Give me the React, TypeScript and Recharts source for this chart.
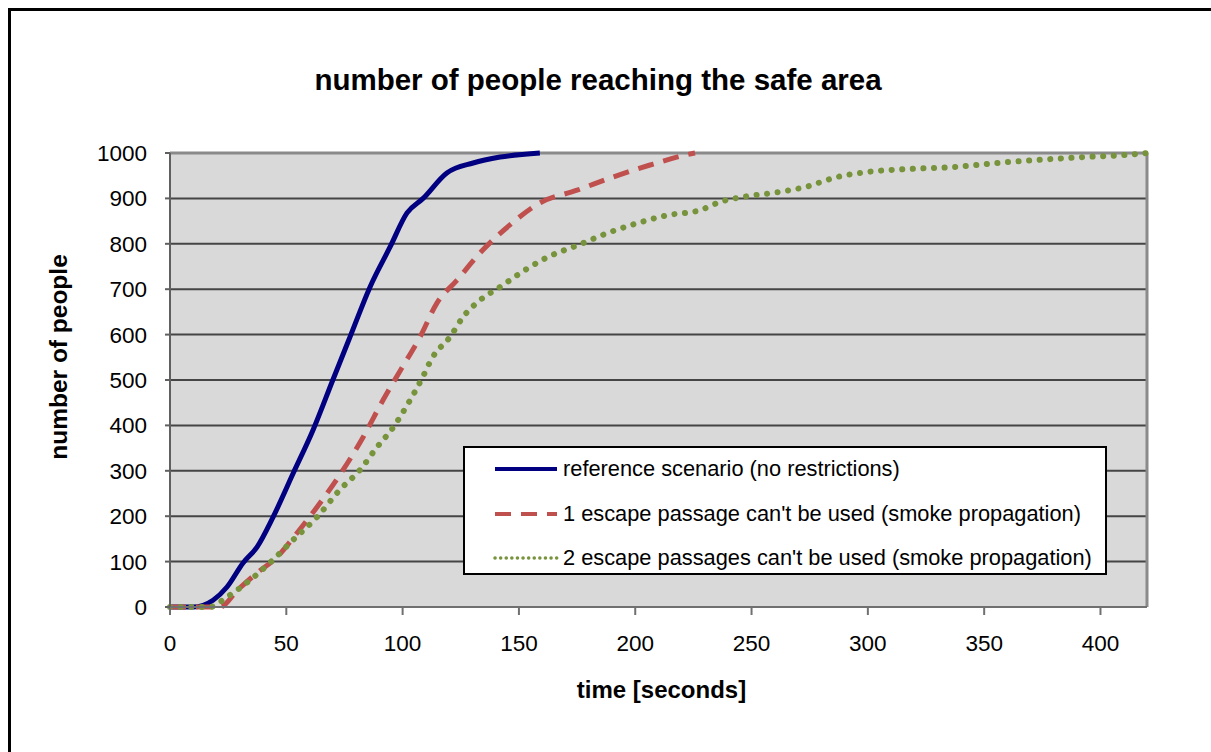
import React from "react";
import { LineChart, Line, XAxis, YAxis, CartesianGrid, ReferenceLine } from "recharts";

// ---- data ----
const xTicks = [0, 50, 100, 150, 200, 250, 300, 350, 400];
const yTicks = [0, 100, 200, 300, 400, 500, 600, 700, 800, 900, 1000];

const refTime = [0, 10, 18.5, 24.5, 31.4, 37.4, 44.3, 53, 61.5, 70, 77.4, 86, 94.6, 101.9, 108.8, 119, 130.3, 141.9, 159];
const refCount = [0, 0, 15, 44, 97, 132, 198, 295, 390, 500, 595, 705, 793, 868, 900, 956, 978, 991, 1000];

const oneTime = [0, 21.5, 29, 37.4, 46, 54.6, 64.5, 74.4, 83, 91.6, 98.9, 107.5, 114.8, 123.4, 133.3, 146, 159, 175, 190.4, 206, 222, 225.7];
const oneCount = [0, 0, 37, 75, 110, 163, 229, 302, 374, 456, 520, 595, 670, 720, 780, 841, 890, 918, 947, 973, 996, 1000];

const twoTime = [0, 17, 24.5, 34.4, 44.3, 53, 63.2, 73, 81.7, 89, 96, 102, 108, 113, 120.4, 126, 133.3, 141.9, 153.5, 162.5, 175.4, 188.3, 201.2, 214, 227.8, 236.4, 245.9, 259.2, 273, 286.7, 299.6, 318, 336.6, 355.5, 374, 392.5, 411.4, 420];
const twoCount = [0, 0, 22, 59, 104, 148, 198, 258, 302, 352, 396, 445, 500, 551, 595, 639, 676, 705, 745, 771, 797, 824, 846, 863, 874, 892, 903, 912, 925, 947, 958, 965, 969, 978, 985, 991, 996, 1000];

const seriesNames = [
  "reference scenario (no restrictions)",
  "1 escape passage can't be used (smoke propagation)",
  "2 escape passages can't be used (smoke propagation)",
];
const seriesColors = ["#000080", "#c0504d", "#77933c"];
const seriesDash = [undefined, "16 10", "0.1 10.5"];

const toRows = (ts: number[], vs: number[]) => ts.map((t, i) => ({ t, v: vs[i] }));
const seriesData = [toRows(refTime, refCount), toRows(oneTime, oneCount), toRows(twoTime, twoCount)];

const FONT = '"Liberation Sans", Arial, sans-serif';

export default function App() {
  return (
    <div
      style={{
        position: "fixed",
        left: 0,
        top: 0,
        width: 1211,
        height: 752,
        background: "#fff",
        overflow: "hidden",
        fontFamily: FONT,
      }}
    >
      <div
        style={{
          position: "absolute",
          left: 8,
          top: 8,
          width: 1250,
          height: 800,
          borderLeft: "3px solid #000",
          borderTop: "3px solid #000",
        }}
      />
      <div
        style={{
          position: "absolute",
          left: 0,
          top: 65,
          width: 1196,
          textAlign: "center",
          fontSize: 29.5,
          lineHeight: "29px",
          fontWeight: "bold",
          color: "#000",
        }}
      >
        number of people reaching the safe area
      </div>
      <div style={{ position: "absolute", left: 0, top: 0 }}>
        <LineChart width={1211} height={752} margin={{ top: 153, right: 64, bottom: 65, left: 0 }}>
          <CartesianGrid vertical={false} stroke="#454545" strokeWidth={2} fill="#d9d9d9" />
          <XAxis
            type="number"
            dataKey="t"
            domain={[0, 420]}
            ticks={xTicks}
            height={80}
            tickSize={8}
            tickMargin={20}
            stroke="#707070"
            strokeWidth={2}
            tick={{ fill: "#000", fontSize: 22.5, fontFamily: FONT }}
            label={{
              content: (props: any) => {
                const vb = props.viewBox || { x: 170, y: 607, width: 977 };
                return (
                  <text
                    x={vb.x + vb.width / 2 + 3}
                    y={vb.y + 91}
                    textAnchor="middle"
                    fontSize={24}
                    fontWeight="bold"
                    fontFamily={FONT}
                    fill="#000"
                  >
                    time [seconds]
                  </text>
                );
              },
            }}
          />
          <YAxis
            type="number"
            domain={[0, 1000]}
            ticks={yTicks}
            width={170}
            tickSize={5}
            tickMargin={18}
            stroke="#606060"
            strokeWidth={2}
            interval={0}
            tick={{ fill: "#000", fontSize: 22.5, fontFamily: FONT }}
            label={{
              content: () => (
                <text
                  x={67}
                  y={357}
                  transform="rotate(-90, 67, 357)"
                  textAnchor="middle"
                  fontSize={24.5}
                  fontWeight="bold"
                  fontFamily={FONT}
                  fill="#000"
                >
                  number of people
                </text>
              ),
            }}
          />
          <ReferenceLine y={1000} stroke="#8a8a8a" strokeWidth={3} />
          <ReferenceLine x={420} stroke="#8a8a8a" strokeWidth={3} />
          {seriesData.map((d, i) => (
            <Line
              key={i}
              data={d}
              dataKey="v"
              name={seriesNames[i]}
              type="monotone"
              stroke={seriesColors[i]}
              strokeWidth={i === 2 ? 6 : 5}
              strokeDasharray={seriesDash[i]}
              strokeLinecap={i === 2 ? "round" : "butt"}
              dot={false}
              activeDot={false}
              isAnimationActive={false}
            />
          ))}
        </LineChart>
      </div>
      <div
        style={{
          position: "absolute",
          left: 463,
          top: 446,
          width: 640,
          height: 125,
          background: "#fff",
          border: "2px solid #000",
          boxSizing: "content-box",
        }}
      >
        {seriesNames.map((n, i) => (
          <div
            key={i}
            style={{
              position: "absolute",
              left: 28,
              top: 5 + i * 44.5,
              height: 32,
              display: "flex",
              alignItems: "center",
              whiteSpace: "nowrap",
            }}
          >
            <svg width={66} height={10} style={{ marginRight: 4 }}>
              <line
                x1={2}
                y1={5}
                x2={64}
                y2={5}
                stroke={seriesColors[i]}
                strokeWidth={i === 2 ? 3.5 : 4}
                strokeDasharray={i === 2 ? "0.1 5.5" : seriesDash[i]}
                strokeLinecap={i === 2 ? "round" : "butt"}
              />
            </svg>
            <span style={{ fontSize: 21.8, color: "#000", fontFamily: FONT }}>{n}</span>
          </div>
        ))}
      </div>
    </div>
  );
}
